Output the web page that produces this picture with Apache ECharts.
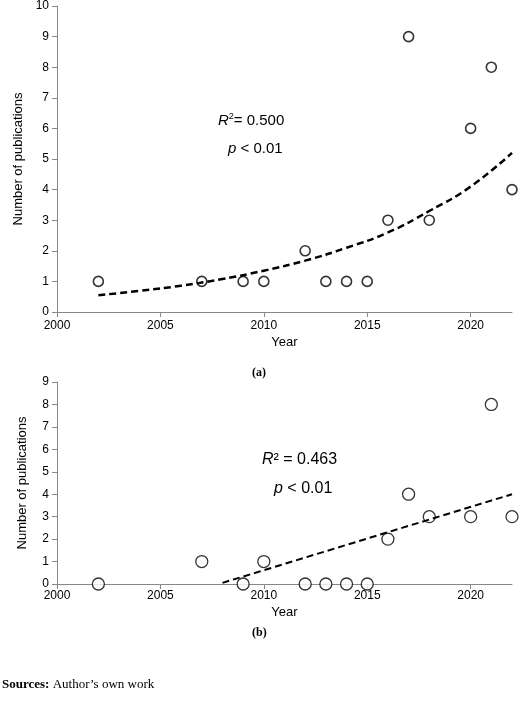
<!DOCTYPE html>
<html><head><meta charset="utf-8">
<script src="https://cdn.jsdelivr.net/npm/echarts@6/dist/echarts.min.js"></script>
<style>html,body{margin:0;padding:0;background:#fff}#c{width:520px;height:702px}</style>
</head><body><div id="c"></div>
<script>
const yearsA = [2002,2007,2009,2010,2012,2013,2014,2015,2016,2017,2018,2020,2021,2022];
const valuesA = [1,1,1,1,2,1,1,1,3,9,3,6,8,4];
const trendYearsA = [2002,2004,2006,2008,2010,2012,2014,2016,2018,2020,2022];
const trendValuesA = [0.55,0.69,0.86,1.08,1.35,1.68,2.1,2.6,3.3,4.1,5.2];
const yearsB = [2002,2007,2009,2010,2012,2013,2014,2015,2016,2017,2018,2020,2021,2022];
const valuesB = [0,1,0,1,0,0,0,0,2,4,3,3,8,3];
const trendYearsB = [2008,2022];
const trendValuesB = [0.05,4.0];
const zip=(a,b)=>a.map((v,i)=>[v,b[i]]);
const F='"Liberation Sans", Arial, sans-serif';
const axX=(gi)=>({type:'value',gridIndex:gi,min:2000,max:2022,interval:5,
  name:'Year',nameLocation:'middle',nameGap:gi?22:24,nameTextStyle:{fontFamily:F,fontSize:13,color:'#000'},
  axisLine:{show:true,onZero:false,lineStyle:{color:'#888'}},axisTick:{show:true,lineStyle:{color:'#888'}},
  axisLabel:{fontFamily:F,fontSize:12,color:'#000',margin:gi?6:8,showMaxLabel:false,formatter:v=>String(v)},splitLine:{show:false}});
const axY=(gi,max)=>({type:'value',gridIndex:gi,min:0,max:max,interval:1,
  name:'Number of publications',nameLocation:'middle',nameGap:gi?28:30,nameTextStyle:{fontFamily:F,fontSize:13,color:'#000'},
  axisLine:{show:true,lineStyle:{color:'#888'}},axisTick:{show:true,lineStyle:{color:'#888'}},
  axisLabel:{fontFamily:F,fontSize:12,color:'#000'},splitLine:{show:false}});
const chart=echarts.init(document.getElementById('c'));
chart.setOption({
  animation:false,
  grid:[{left:57,right:8,top:5,height:307},{left:57,right:8,top:382,height:202}],
  xAxis:[axX(0),axX(1)],
  yAxis:[axY(0,10),axY(1,9)],
  series:[
    {type:'line',xAxisIndex:0,yAxisIndex:0,data:zip(trendYearsA,trendValuesA),smooth:true,symbol:'none',lineStyle:{color:'#000',width:2.5,type:[7,4]}},
    {type:'scatter',xAxisIndex:0,yAxisIndex:0,data:zip(yearsA,valuesA),symbolSize:10,itemStyle:{color:'#fff',borderColor:'#000',borderWidth:1.6}},
    {type:'line',xAxisIndex:1,yAxisIndex:1,data:zip(trendYearsB,trendValuesB),symbol:'none',lineStyle:{color:'#000',width:2,type:[7,4]}},
    {type:'scatter',xAxisIndex:1,yAxisIndex:1,data:zip(yearsB,valuesB),symbolSize:12,itemStyle:{color:'#fff',borderColor:'#000',borderWidth:1.3}}
  ],
  graphic:[
    {type:'text',left:218,top:112,style:{text:'{i|R}{s|2}= 0.500',rich:{i:{fontStyle:'italic',fontFamily:F,fontSize:15},s:{fontFamily:F,fontSize:9,verticalAlign:'top',padding:[0,0,8,0]}},fontFamily:F,fontSize:15,fill:'#000'}},
    {type:'text',left:228,top:141,style:{text:'{i|p} < 0.01',rich:{i:{fontStyle:'italic',fontFamily:F,fontSize:15}},fontFamily:F,fontSize:15,fill:'#000'}},
    {type:'text',left:252,top:367,style:{text:'(a)',font:'bold 12px "Liberation Serif", serif',fill:'#000'}},
    {type:'text',left:262,top:452,style:{text:'{i|R}² = 0.463',rich:{i:{fontStyle:'italic',fontFamily:F,fontSize:16}},fontFamily:F,fontSize:16,fill:'#000'}},
    {type:'text',left:274,top:481,style:{text:'{i|p} < 0.01',rich:{i:{fontStyle:'italic',fontFamily:F,fontSize:16}},fontFamily:F,fontSize:16,fill:'#000'}},
    {type:'text',left:252,top:627,style:{text:'(b)',font:'bold 12px "Liberation Serif", serif',fill:'#000'}},
    {type:'text',left:2,top:678,style:{text:'{b|Sources:} Author’s own work',rich:{b:{fontWeight:'bold',fontFamily:'"Liberation Serif", serif',fontSize:13}},fontFamily:'"Liberation Serif", serif',fontSize:13,fill:'#000'}}
  ]
});
</script></body></html>
